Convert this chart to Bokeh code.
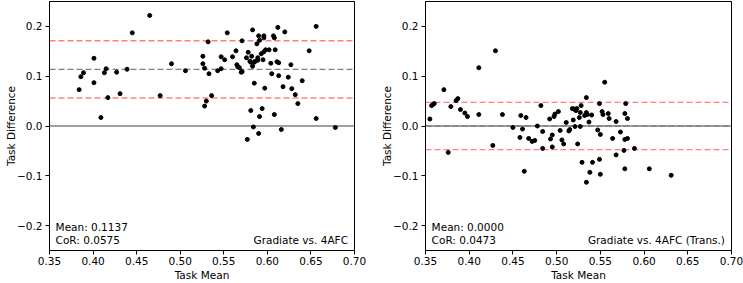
from bokeh.plotting import figure
from bokeh.layouts import row
from bokeh.models import Span, Label, FixedTicker, ColumnDataSource
from bokeh.embed import file_html
from bokeh.resources import INLINE

# ---------------- data ----------------
X_TICKS = [0.35, 0.40, 0.45, 0.50, 0.55, 0.60, 0.65, 0.70]
X_TICK_LABELS = ["0.35", "0.40", "0.45", "0.50", "0.55", "0.60", "0.65", "0.70"]
Y_TICKS = [-0.2, -0.1, 0.0, 0.1, 0.2]
Y_TICK_LABELS = ["\u22120.2", "\u22120.1", "0.0", "0.1", "0.2"]

titles = ["Gradiate vs. 4AFC", "Gradiate vs. 4AFC (Trans.)"]
means = [0.1137, 0.0000]
cors = [0.0575, 0.0473]

mean_left = [0.384, 0.386, 0.389, 0.401, 0.401, 0.409, 0.413, 0.415, 0.417, 0.427,
             0.431, 0.439, 0.445, 0.465, 0.477, 0.490, 0.506,
             0.526, 0.526, 0.528, 0.528, 0.530, 0.532, 0.533, 0.536, 0.543, 0.547,
             0.547, 0.551, 0.554, 0.560, 0.564, 0.565, 0.566, 0.568, 0.570, 0.571,
             0.571, 0.576, 0.578, 0.580, 0.581, 0.582, 0.583, 0.581, 0.585, 0.583,
             0.584, 0.585, 0.586, 0.588, 0.589, 0.589, 0.590, 0.591, 0.591, 0.593,
             0.594, 0.595, 0.596, 0.596, 0.596, 0.597, 0.598, 0.602, 0.604, 0.605,
             0.607, 0.608, 0.608, 0.609, 0.611, 0.613, 0.613, 0.612, 0.616, 0.618,
             0.620, 0.624, 0.627, 0.628, 0.632, 0.635, 0.640, 0.648, 0.656, 0.656,
             0.678, 0.577, 0.590]
diff_left = [0.073, 0.099, 0.107, 0.136, 0.087, 0.017, 0.107, 0.115, 0.057, 0.108,
             0.065, 0.114, 0.187, 0.222, 0.061, 0.125, 0.111,
             0.140, 0.125, 0.116, 0.040, 0.050, 0.169, 0.105, 0.061, 0.111, 0.139,
             0.115, 0.133, 0.187, 0.139, 0.151, 0.123, 0.119, 0.117, 0.108, 0.171,
             0.109, 0.137, 0.148, 0.130, 0.031, 0.140, 0.193, 0.128, 0.128, 0.120,
             -0.002, 0.086, 0.130, 0.165, 0.137, 0.132, 0.181, 0.172, 0.019, 0.145,
             0.035, 0.133, 0.181, 0.177, 0.149, 0.076, 0.153, 0.153, 0.126, 0.105,
             0.181, 0.023, 0.177, 0.153, 0.129, 0.127, 0.101, 0.198, -0.007, 0.079,
             0.189, 0.098, 0.123, 0.075, 0.063, 0.045, 0.091, 0.151, 0.200, 0.015,
             -0.003, -0.027, -0.015]

mean_right = [0.355, 0.357, 0.359, 0.360, 0.371, 0.376, 0.379, 0.385, 0.387, 0.390,
              0.395, 0.398, 0.411, 0.411, 0.427, 0.430, 0.438, 0.450, 0.458, 0.459,
              0.461, 0.463, 0.465, 0.468, 0.472, 0.475, 0.478, 0.482, 0.484, 0.484,
              0.492, 0.493, 0.495, 0.495, 0.497, 0.498, 0.502, 0.504, 0.506, 0.508,
              0.511, 0.514, 0.515, 0.518, 0.519, 0.520, 0.521, 0.522, 0.523, 0.524,
              0.526, 0.527, 0.527, 0.528, 0.529, 0.532, 0.534, 0.534, 0.535, 0.537,
              0.540, 0.534, 0.538, 0.541, 0.547, 0.549, 0.549, 0.550, 0.550, 0.552,
              0.553, 0.555, 0.559, 0.560, 0.564, 0.568, 0.568, 0.573, 0.578, 0.579,
              0.577, 0.578, 0.581, 0.581, 0.589, 0.578, 0.606, 0.631]
diff_right = [0.014, 0.041, 0.044, 0.045, 0.073, -0.053, 0.039, 0.051, 0.055, 0.033,
              0.026, 0.019, 0.117, 0.023, -0.039, 0.151, 0.023, -0.003, -0.023, 0.021,
              -0.006, -0.091, 0.017, -0.025, -0.031, -0.029, 0.000, 0.041, -0.011, -0.045,
              0.014, -0.026, -0.018, -0.042, 0.019, 0.024, 0.029, -0.009, -0.028, -0.036,
              0.007, -0.010, -0.007, 0.035, 0.012, 0.034, -0.001, 0.031, 0.035, -0.036,
              0.017, -0.001, 0.027, 0.041, -0.073, 0.021, 0.057, 0.027, 0.023, 0.008,
              0.022, -0.113, -0.093, -0.073, -0.008, 0.045, -0.067, -0.097, -0.017, 0.029,
              0.023, 0.088, 0.025, 0.015, -0.025, 0.009, -0.058, -0.012, 0.025, 0.045,
              -0.049, -0.027, 0.015, -0.025, -0.045, -0.086, -0.086, -0.099]

FONT = "DejaVu Sans"
HEIGHT = 283


def make_panel(xs, ys, mean, cor, title, width, border_left, border_right):
    p = figure(width=width, height=HEIGHT, x_range=(0.35, 0.70), y_range=(-0.25, 0.25),
               output_backend="svg", toolbar_location=None,
               min_border_left=border_left, min_border_right=border_right,
               min_border_top=1, min_border_bottom=32)
    p.xgrid.visible = False
    p.ygrid.visible = False
    p.background_fill_color = "white"
    p.border_fill_color = "white"
    p.outline_line_color = "black"
    p.outline_line_width = 1
    p.outline_line_alpha = 1

    p.xaxis.ticker = FixedTicker(ticks=X_TICKS)
    p.xaxis.major_label_overrides = dict(zip(X_TICKS, X_TICK_LABELS))
    p.yaxis.ticker = FixedTicker(ticks=Y_TICKS)
    p.yaxis.major_label_overrides = dict(zip(Y_TICKS, Y_TICK_LABELS))
    p.xaxis.axis_label = "Task Mean"
    p.yaxis.axis_label = "Task Difference"
    for ax in (p.xaxis, p.yaxis):
        ax.axis_line_color = "black"
        ax.major_tick_line_color = "black"
        ax.major_tick_out = 4
        ax.major_tick_in = 0
        ax.minor_tick_line_color = None
        ax.major_label_text_font = FONT
        ax.major_label_text_font_size = "10.5px"
        ax.major_label_text_color = "black"
        ax.axis_label_text_font = FONT
        ax.axis_label_text_font_size = "10.5px"
        ax.axis_label_text_font_style = "normal"
        ax.axis_label_text_color = "black"
    p.xaxis.major_label_standoff = 2
    p.xaxis.axis_label_standoff = 1
    p.yaxis.major_label_standoff = 3
    p.yaxis.axis_label_standoff = -3

    p.add_layout(Span(location=0.0, dimension="width", line_color="black",
                      line_alpha=0.5, line_width=1.5, level="underlay"))
    p.add_layout(Span(location=mean, dimension="width", line_color="gray",
                      line_dash="6 3", line_width=1.3, level="underlay"))
    for loc in (mean + cor, mean - cor):
        p.add_layout(Span(location=loc, dimension="width", line_color="red",
                          line_alpha=0.5, line_dash="6 3", line_width=1.3,
                          level="underlay"))

    src = ColumnDataSource(dict(x=xs, y=ys))
    p.scatter("x", "y", source=src, size=4, color="black")

    p.add_layout(Label(x=0.357, y=-0.202, text=f"Mean: {mean:.4f}",
                       text_baseline="middle", text_align="left",
                       text_font=FONT, text_font_size="10.5px", text_color="black"))
    p.add_layout(Label(x=0.357, y=-0.228, text=f"CoR: {cor:.4f}",
                       text_baseline="middle", text_align="left",
                       text_font=FONT, text_font_size="10.5px", text_color="black"))
    p.add_layout(Label(x=0.6925, y=-0.228, text=title,
                       text_baseline="middle", text_align="right",
                       text_font=FONT, text_font_size="10.5px", text_color="black"))
    return p


p1 = make_panel(mean_left, diff_left, means[0], cors[0], titles[0], 376, 49, 22)
p2 = make_panel(mean_right, diff_right, means[1], cors[1], titles[1], 367, 49, 12)

layout = row(p1, p2, spacing=0)

open("out.html", "w").write(file_html(layout, INLINE))
